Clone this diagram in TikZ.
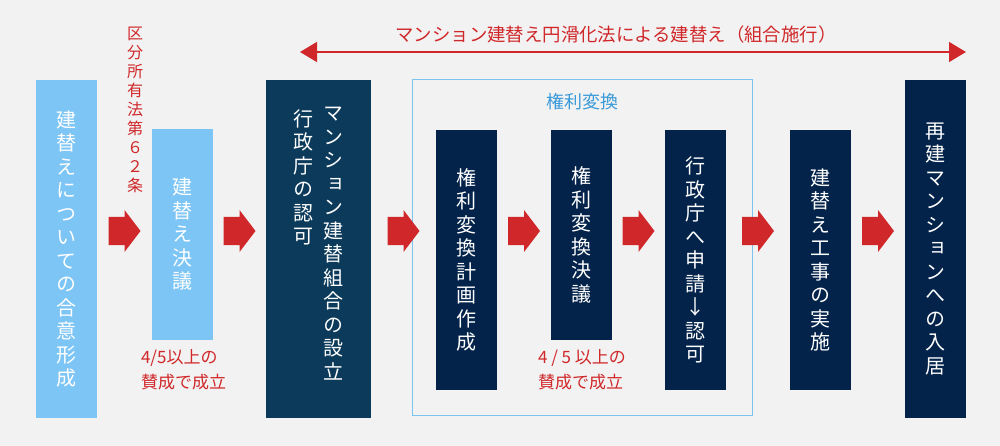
\documentclass[tikz,border=0pt]{standalone}
\usepackage{fontspec}
\usetikzlibrary{arrows.meta,calc}
\newfontfamily\jp{Noto Sans CJK JP}
\newfontfamily\jpv{Noto Sans CJK JP}[RawFeature=+vert]
\definecolor{bg}{HTML}{F2F2F2}
\definecolor{lblue}{HTML}{7DC5F5}
\definecolor{navyA}{HTML}{0B3A5A}
\definecolor{navyB}{HTML}{03234A}
\definecolor{redc}{HTML}{D0282A}
\definecolor{grpblue}{HTML}{7CC4F0}
\definecolor{lbltxt}{HTML}{3A9AD9}
\tikzset{
  box/.style={inner sep=0pt, text=white, align=center, font=\jpv\fontsize{20}{23.5}\selectfont},
  vtext/.style={inner sep=0pt, text=white, align=center, font=\jpv\fontsize{20}{23.5}\selectfont},
  redlbl/.style={inner sep=0pt, text=redc, align=left, font=\jp\fontsize{17}{25}\selectfont},
  blockarrow/.pic={\fill[redc] (-16,-14) -- (0,-14) -- (0,-21) -- (16,0) -- (0,21) -- (0,14) -- (-16,14) -- cycle;}
}
\begin{document}
\begin{tikzpicture}[x=1pt,y=-1pt]
\useasboundingbox (0,0) rectangle (1000,446);
\fill[bg] (0,0) rectangle (1000,446);

% group frame
\draw[grpblue, line width=1pt] (412,80) rectangle (752,415);
\node[inner sep=0pt, text=lbltxt, font=\jp\fontsize{18}{20}\selectfont] (grp) at (582,102) {権利変換};

% boxes
\node[box, fill=lblue, minimum width=61pt, minimum height=338pt] (b1) at (66.5,249)
  {建\\替\\え\\に\\つ\\い\\て\\の\\合\\意\\形\\成};
\node[box, fill=lblue, minimum width=61pt, minimum height=211pt] (b2) at (182.5,234.5)
  {建\\替\\え\\決\\議};
\node[box, fill=navyA, minimum width=105pt, minimum height=338pt] (b3) at (318.5,249) {};
\node[vtext, anchor=north] (t3a) at (333,107) {マ\\ン\\シ\\ョ\\ン\\建\\替\\組\\合\\の\\設\\立};
\node[vtext, anchor=north] (t3b) at (303,109) {行\\政\\庁\\の\\認\\可};
\node[box, fill=navyB, minimum width=61pt, minimum height=260pt] (b4) at (466.5,260)
  {権\\利\\変\\換\\計\\画\\作\\成};
\node[box, fill=navyB, minimum width=61pt, minimum height=210pt] (b5) at (581.5,235)
  {権\\利\\変\\換\\決\\議};
\node[box, fill=navyB, minimum width=61pt, minimum height=260pt] (b6) at (695.5,260)
  {行\\政\\庁\\へ\\申\\請\\↓\\認\\可};
\node[box, fill=navyB, minimum width=61pt, minimum height=260pt] (b7) at (820.5,260)
  {建\\替\\え\\工\\事\\の\\実\\施};
\node[box, fill=navyB, minimum width=61pt, minimum height=338pt] (b8) at (935.5,249)
  {再\\建\\マ\\ン\\シ\\ョ\\ン\\へ\\の\\入\\居};

% block arrows between boxes
\coordinate (m1) at ($(b1.east)!.5!(b2.west)$);
\coordinate (m2) at ($(b2.east)!.5!(b3.west)$);
\coordinate (m3) at ($(b3.east)!.5!(b4.west)$);
\coordinate (m4) at ($(b4.east)!.5!(b5.west)$);
\coordinate (m5) at ($(b5.east)!.5!(b6.west)$);
\coordinate (m6) at ($(b6.east)!.5!(b7.west)$);
\coordinate (m7) at ($(b7.east)!.5!(b8.west)$);
\foreach \m in {m1,m2,m3,m4,m5,m6,m7}
  \pic at (\m |- 0,231) {blockarrow};

% red labels
\node[inner sep=0pt, text=redc, align=center, font=\jpv\fontsize{16}{19}\selectfont] (law) at (135,110)
  {区\\分\\所\\有\\法\\第\\６\\２\\条};
\node[redlbl] (r1) at (183.5,370) {4/5以上の\\賛成で成立};
\node[redlbl] (r2) at (582,370) {4 / 5 以上の\\賛成で成立};

% top span arrow
\coordinate (L) at (300,52);
\coordinate (R) at (966,52);
\draw[redc, line width=1.5pt, {Triangle[length=17pt,width=20pt]}-{Triangle[length=17pt,width=20pt]}] (L) -- (R);
\node[inner sep=0pt, text=redc, font=\jp\fontsize{18.4}{20}\selectfont] (span) at (616,35)
  {マンション建替え円滑化法による建替え（組合施行）};
\end{tikzpicture}
\end{document}
